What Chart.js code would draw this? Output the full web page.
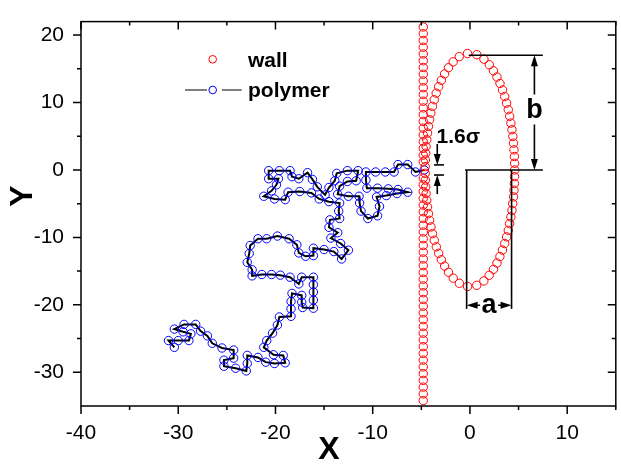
<!DOCTYPE html>
<html>
<head>
<meta charset="utf-8">
<script src="https://cdn.jsdelivr.net/npm/chart.js@4.4.1/dist/chart.umd.min.js"></script>
<style>
  html, body { margin: 0; padding: 0; background: #fff; }
  #wrap { width: 621px; height: 464px; }
</style>
</head>
<body>
<div id="wrap"><canvas id="chart" width="621" height="464"></canvas></div>
<script>
// axis ranges and ticks
const xRange = [-40, 15];
const yRange = [-35, 22];
const xMajor = [-40, -30, -20, -10, 0, 10];
const xMinor = [-35, -25, -15, -5, 5, 15];
const yMajor = [-30, -20, -10, 0, 10, 20];
const yMinor = [-25, -15, -5, 5, 15];

// wall beads: one column with a hole at y = 0
const wallX = -4.8;
const wallY = [21.2, 20.2, 19.2, 18.2, 17.2, 16.2, 15.2, 14.2, 13.2, 12.2, 11.2, 10.2, 9.2, 8.2, 7.2, 6.2, 5.2, 4.2, 3.2, 2.2, 1.2,
  -1.2, -2.2, -3.2, -4.2, -5.2, -6.2, -7.2, -8.2, -9.2, -10.2, -11.2, -12.2, -13.2, -14.2, -15.2, -16.2, -17.2,
  -18.2, -19.2, -20.2, -21.2, -22.2, -23.2, -24.2, -25.2, -26.2, -27.2, -28.2, -29.2, -30.2, -31.2, -32.2, -33.2, -34.2];

// wall beads on the ellipse
const ellipseX = [0.71, 1.44, 1.99, 2.42, 2.78, 3.09, 3.35, 3.57, 3.77, 3.94, 4.09, 4.21, 4.32, 4.41, 4.48, 4.53, 4.57, 4.59, 4.60,
  4.59, 4.57, 4.53, 4.48, 4.40, 4.32, 4.21, 4.08, 3.94, 3.77, 3.57, 3.34, 3.08, 2.78, 2.42, 1.98, 1.43, 0.70,
  -0.24, -1.09, -1.72, -2.21, -2.61, -2.94, -3.22, -3.46, -3.67, -3.85, -4.01, -4.15, -4.27, -4.36, -4.44, -4.51, -4.55, -4.58, -4.60,
  -4.60, -4.58, -4.55, -4.51, -4.44, -4.36, -4.27, -4.15, -4.02, -3.86, -3.67, -3.47, -3.22, -2.94, -2.61, -2.21, -1.73, -1.10, -0.25];
const ellipseY = [17.09, 16.43, 15.60, 14.70, 13.78, 12.83, 11.86, 10.89, 9.91, 8.94, 7.96, 6.95, 5.97, 4.97, 3.98, 2.98, 1.99, 0.99, 0.00,
  -1.00, -2.00, -3.00, -3.99, -4.99, -5.98, -6.97, -7.96, -8.95, -9.92, -10.91, -11.88, -12.84, -13.80, -14.73, -15.61, -16.45, -17.10,
  -17.28, -16.80, -16.04, -15.17, -14.25, -13.31, -12.36, -11.40, -10.42, -9.44, -8.45, -7.46, -6.48, -5.48, -4.49, -3.49, -2.50, -1.50, -0.50,
  0.49, 1.49, 2.49, 3.48, 4.48, 5.47, 6.47, 7.45, 8.44, 9.43, 10.41, 11.39, 12.35, 13.30, 14.24, 15.16, 16.03, 16.80, 17.27];

// polymer beads, from the free end to the end in the hole
const polyX = [-30.4, -31.0, -30.0, -28.9, -28.7, -29.5, -30.4, -29.4, -28.2, -27.7,
  -27.0, -26.5, -25.5, -24.3, -24.3, -25.3, -25.3, -24.1, -23.0, -22.9,
  -22.9, -21.8, -21.0, -20.1, -19.0, -19.2, -20.2, -21.2, -20.9, -20.3,
  -19.8, -19.6, -18.4, -18.4, -18.4, -18.3, -17.3, -17.3, -17.2, -16.1,
  -16.1, -16.1, -16.1, -16.1, -17.3, -17.6, -18.5, -19.5, -20.4, -21.4,
  -22.4, -22.4, -22.9, -22.7, -22.6, -21.8, -20.9, -19.8, -18.6, -17.8,
  -17.6, -16.9, -16.1, -16.1, -15.0, -14.0, -13.2, -12.5, -13.3, -14.3,
  -13.6, -14.5, -14.4, -13.4, -13.5, -13.4, -14.5, -15.5, -16.3, -17.5,
  -18.7, -19.0, -20.1, -21.2, -20.4, -19.9, -19.7, -20.7, -20.7, -19.6,
  -18.5, -18.3, -17.6, -16.7, -16.2, -15.7, -14.9, -14.5, -13.9, -13.7,
  -12.6, -11.5, -11.7, -12.6, -13.4, -13.6, -12.5, -11.4, -11.35, -11.2,
  -10.5, -9.5, -9.3, -9.6, -8.6, -7.5, -6.4, -7.4, -8.4, -9.5,
  -10.6, -10.7, -10.7, -9.7, -8.7, -7.8, -7.4, -6.4, -5.6, -4.7];
const polyY = [-26.3, -25.3, -25.3, -25.3, -24.3, -24.0, -23.6, -22.9, -22.9, -23.9,
  -24.6, -25.7, -26.4, -26.7, -27.9, -28.2, -29.1, -29.4, -29.8, -28.7,
  -27.5, -27.8, -28.5, -28.7, -28.6, -27.5, -27.4, -26.3, -25.3, -24.2,
  -23.0, -21.8, -21.7, -20.6, -19.5, -18.3, -18.6, -19.6, -20.4, -20.5,
  -19.3, -18.1, -17.0, -15.9, -15.9, -16.9, -15.9, -15.6, -15.5, -15.5,
  -15.7, -14.8, -13.7, -12.4, -11.2, -10.2, -10.2, -9.8, -10.2, -11.1,
  -12.3, -12.8, -12.7, -11.6, -11.8, -12.1, -13.2, -11.9, -10.9, -10.1,
  -9.3, -8.5, -7.4, -7.2, -6.1, -4.9, -4.7, -4.3, -3.4, -3.2,
  -3.3, -4.4, -4.3, -3.9, -3.1, -2.2, -1.3, -1.3, -0.1, -0.1,
  -0.1, -1.0, -1.3, -0.4, -1.4, -2.5, -3.7, -2.6, -1.6, -0.5,
  -0.1, -0.1, -1.6, -1.7, -2.4, -3.6, -3.9, -3.9, -4.9, -6.1,
  -7.2, -6.8, -5.4, -4.0, -3.8, -3.5, -3.3, -2.9, -2.8, -2.7,
  -2.7, -1.5, -0.3, -0.3, -0.3, -0.3, 0.8, 0.8, -0.3, 0.0];

// annotation geometry in data units
const bLines = [[[-0.13, 17.0], [7.5, 17.0]], [[-0.5, 0], [7.5, 0]]];
const bArrow = { x: 6.63, from: 17.0, to: 0, labelY: 8.8 };
const aLines = [[[-0.34, 0], [-0.34, -20.6]], [[4.28, 0], [4.28, -20.6]]];
const aArrow = { y: -20.05, from: -0.34, to: 4.28 };
const gapLines = [[[-3.7, 0.75], [-2.67, 0.75]], [[-3.7, -0.75], [-2.67, -0.75]]];
const gapArrowX = -3.36;
const gapLabel = { x: -3.43, y: 4.0, text: '1.6σ' };

const toPts = (xs, ys) => xs.map((x, i) => ({ x: x, y: ys[i] }));
const FONT = '"Liberation Sans", Arial, sans-serif';

function arrowHead(ctx, x, y, dir) {
  // dir is where the tip points
  const L = 11, W = 3.5;
  ctx.beginPath();
  if (dir === 'down') { ctx.moveTo(x, y); ctx.lineTo(x - W, y - L); ctx.lineTo(x + W, y - L); }
  if (dir === 'up') { ctx.moveTo(x, y); ctx.lineTo(x - W, y + L); ctx.lineTo(x + W, y + L); }
  if (dir === 'left') { ctx.moveTo(x, y); ctx.lineTo(x + L, y - W); ctx.lineTo(x + L, y + W); }
  if (dir === 'right') { ctx.moveTo(x, y); ctx.lineTo(x - L, y - W); ctx.lineTo(x - L, y + W); }
  ctx.closePath();
  ctx.fill();
}

const decor = {
  id: 'decor',
  afterDatasetsDraw(chart) {
    const ctx = chart.ctx;
    const xs = chart.scales.x, ys = chart.scales.y;
    const px = v => xs.getPixelForValue(v), py = v => ys.getPixelForValue(v);
    const area = chart.chartArea;
    ctx.save();
    ctx.strokeStyle = '#000';
    ctx.fillStyle = '#000';
    ctx.lineCap = 'butt';

    // frame
    ctx.lineWidth = 1.5;
    ctx.strokeRect(area.left, area.top, area.right - area.left, area.bottom - area.top);

    // ticks: outward on bottom/left, inward on top/right
    const tick = (vals, len) => {
      vals.forEach(v => {
        const x = px(v);
        ctx.beginPath();
        ctx.moveTo(x, area.bottom); ctx.lineTo(x, area.bottom + len);
        ctx.moveTo(x, area.top); ctx.lineTo(x, area.top + len);
        ctx.stroke();
      });
    };
    const ytick = (vals, len) => {
      vals.forEach(v => {
        const y = py(v);
        ctx.beginPath();
        ctx.moveTo(area.left, y); ctx.lineTo(area.left - len, y);
        ctx.moveTo(area.right, y); ctx.lineTo(area.right - len, y);
        ctx.stroke();
      });
    };
    tick(xMajor, 8); tick(xMinor, 4);
    ytick(yMajor, 8); ytick(yMinor, 4);

    // annotations
    ctx.lineWidth = 1.6;
    const seg = (p) => { ctx.beginPath(); ctx.moveTo(px(p[0][0]), py(p[0][1])); ctx.lineTo(px(p[1][0]), py(p[1][1])); ctx.stroke(); };
    bLines.forEach(seg);
    aLines.forEach(seg);
    gapLines.forEach(seg);

    // b arrow, broken around its label
    const bx = px(bArrow.x), bTop = py(bArrow.from), bBot = py(bArrow.to), bLab = py(bArrow.labelY);
    ctx.beginPath();
    ctx.moveTo(bx, bTop + 8); ctx.lineTo(bx, bLab - 16);
    ctx.moveTo(bx, bLab + 14); ctx.lineTo(bx, bBot - 8);
    ctx.stroke();
    arrowHead(ctx, bx, bTop, 'up');
    arrowHead(ctx, bx, bBot, 'down');
    ctx.font = 'bold 27px ' + FONT;
    ctx.textAlign = 'center';
    ctx.textBaseline = 'middle';
    ctx.fillText('b', bx, bLab);

    // a arrow
    const ay = py(aArrow.y), aL = px(aArrow.from), aR = px(aArrow.to), aMid = (aL + aR) / 2;
    ctx.beginPath();
    ctx.moveTo(aL + 8, ay); ctx.lineTo(aMid - 9, ay);
    ctx.moveTo(aMid + 9, ay); ctx.lineTo(aR - 8, ay);
    ctx.stroke();
    arrowHead(ctx, aL, ay, 'left');
    arrowHead(ctx, aR, ay, 'right');
    ctx.fillText('a', aMid, ay);

    // 1.6 sigma gap arrows
    const gx = px(gapArrowX);
    const gTop = py(gapLines[0][0][1]), gBot = py(gapLines[1][0][1]);
    ctx.beginPath();
    ctx.moveTo(gx, gTop - 21); ctx.lineTo(gx, gTop - 6);
    ctx.moveTo(gx, gBot + 19); ctx.lineTo(gx, gBot + 6);
    ctx.stroke();
    arrowHead(ctx, gx, gTop, 'down');
    arrowHead(ctx, gx, gBot, 'up');
    ctx.font = 'bold 21px ' + FONT;
    ctx.textAlign = 'left';
    ctx.textBaseline = 'alphabetic';
    ctx.fillText(gapLabel.text, px(gapLabel.x), py(gapLabel.y));

    // legend
    ctx.lineWidth = 1;
    ctx.strokeStyle = '#ff0000';
    ctx.beginPath(); ctx.arc(212.7, 59.3, 3.8, 0, Math.PI * 2); ctx.stroke();
    ctx.strokeStyle = '#000';
    ctx.beginPath(); ctx.moveTo(185, 90); ctx.lineTo(207, 90); ctx.moveTo(222, 90); ctx.lineTo(241.7, 90); ctx.stroke();
    ctx.strokeStyle = '#0000ff';
    ctx.beginPath(); ctx.arc(212.7, 90, 3.8, 0, Math.PI * 2); ctx.stroke();
    ctx.fillStyle = '#000';
    ctx.font = 'bold 21px ' + FONT;
    ctx.fillText('wall', 248, 66.5);
    ctx.fillText('polymer', 248, 96.5);

    // axis titles
    ctx.font = 'bold 32px ' + FONT;
    ctx.textAlign = 'center';
    ctx.textBaseline = 'middle';
    ctx.fillText('X', 329, 450);
    ctx.save();
    ctx.translate(23, 196);
    ctx.rotate(-Math.PI / 2);
    ctx.fillText('Y', 0, 0);
    ctx.restore();
    ctx.restore();
  }
};

const beadStyle = (color) => ({
  pointStyle: 'circle',
  pointRadius: 4.2,
  pointHoverRadius: 4.2,
  pointBorderWidth: 1,
  pointBorderColor: color,
  pointBackgroundColor: 'rgba(0,0,0,0)'
});

new Chart(document.getElementById('chart'), {
  type: 'scatter',
  data: {
    datasets: [
      Object.assign({ label: 'polymer', data: toPts(polyX, polyY), showLine: true, borderColor: '#000', borderWidth: 2, order: 2 }, beadStyle('#0000ff')),
      Object.assign({ label: 'wall', data: wallY.map(y => ({ x: wallX, y: y })), showLine: false, order: 1 }, beadStyle('#ff0000')),
      Object.assign({ label: 'wall ellipse', data: toPts(ellipseX, ellipseY), showLine: false, order: 1 }, beadStyle('#ff0000'))
    ]
  },
  options: {
    responsive: false,
    animation: false,
    devicePixelRatio: 1,
    layout: { padding: { top: 10, right: 1, left: 0, bottom: 0 } },
    plugins: { legend: { display: false }, tooltip: { enabled: false } },
    scales: {
      x: {
        type: 'linear', min: xRange[0], max: xRange[1],
        afterBuildTicks: s => { s.ticks = xMajor.map(v => ({ value: v })); },
        afterFit: s => { s.height = 58; },
        grid: { display: false, drawTicks: true, tickLength: 8 },
        border: { display: false },
        ticks: { color: '#000', font: { family: FONT, size: 21 }, padding: 7, maxRotation: 0 }
      },
      y: {
        type: 'linear', min: yRange[0], max: yRange[1],
        afterBuildTicks: s => { s.ticks = yMajor.map(v => ({ value: v })); },
        afterFit: s => { s.width = 81; },
        grid: { display: false, drawTicks: true, tickLength: 8 },
        border: { display: false },
        ticks: { color: '#000', font: { family: FONT, size: 21 }, padding: 9 }
      }
    }
  },
  plugins: [decor]
});
</script>
</body>
</html>
